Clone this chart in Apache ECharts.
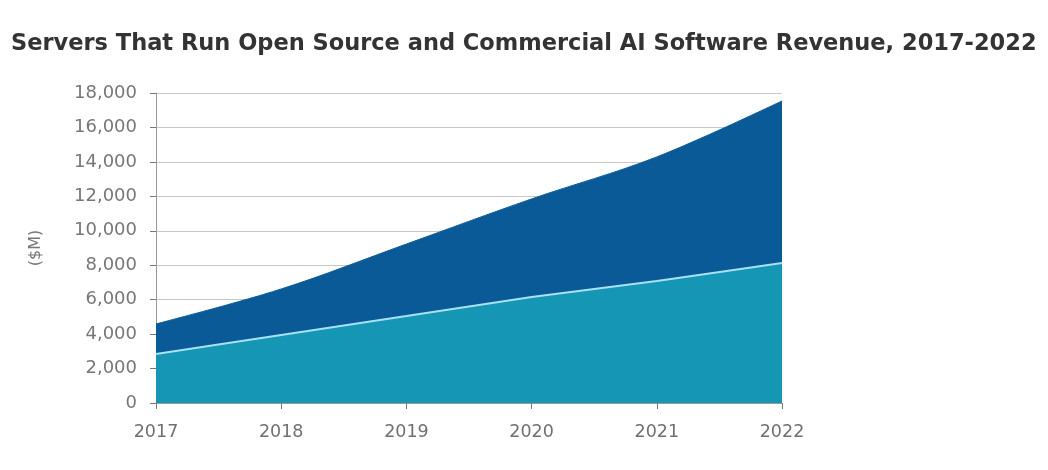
<!DOCTYPE html>
<html>
<head>
<meta charset="utf-8">
<script src="https://cdn.jsdelivr.net/npm/echarts@6/dist/echarts.min.js"></script>
<style>html,body{margin:0;padding:0;background:#fff;}#c{width:1048px;height:470px;}</style>
</head>
<body>
<div id="c"></div>
<script>
const titleText = 'Servers That Run Open Source and Commercial AI Software Revenue, 2017-2022';
const categories = ['2017', '2018', '2019', '2020', '2021', '2022'];
const openSource = [2850, 3950, 5050, 6150, 7080, 8130];
const commercial = [1740, 2670, 4180, 5700, 7210, 9410];
const yTicks = [0, 2000, 4000, 6000, 8000, 10000, 12000, 14000, 16000, 18000];
const yName = '($M)';

const chart = echarts.init(document.getElementById('c'));
chart.setOption({
  animation: false,
  title: {
    text: titleText, left: 6, top: 28,
    textStyle: { fontFamily: 'DejaVu Sans', fontSize: 22.5, fontWeight: 'bold', color: '#333' }
  },
  grid: { left: 156, right: 266, top: 93, bottom: 67 },
  xAxis: {
    type: 'category', data: categories, boundaryGap: false,
    axisLine: { lineStyle: { color: '#999' } },
    axisTick: { show: true, length: 6, lineStyle: { color: '#777' } },
    axisLabel: { color: '#707070', fontSize: 17.5, fontFamily: 'DejaVu Sans', margin: 20 },
    splitLine: { show: false }
  },
  yAxis: {
    type: 'value', min: yTicks[0], max: yTicks[yTicks.length - 1], interval: 2000,
    name: yName, nameLocation: 'middle', nameGap: 112, nameRotate: 90,
    nameTextStyle: { color: '#777', fontSize: 16, fontFamily: 'DejaVu Sans' },
    axisLine: { show: true, lineStyle: { color: '#999' } },
    axisTick: { show: true, length: 6, lineStyle: { color: '#777' } },
    axisLabel: {
      color: '#777', fontSize: 18, fontFamily: 'DejaVu Sans', margin: 19,
      formatter: v => v.toLocaleString('en-US')
    },
    splitLine: { lineStyle: { color: '#c8c8c8' } }
  },
  series: [
    {
      name: 'Open Source', type: 'line', stack: 'total', data: openSource,
      symbol: 'none', smooth: 0.15,
      lineStyle: { color: '#a8e0f5', width: 2 },
      areaStyle: { color: '#1496b4', opacity: 1 }, z: 3
    },
    {
      name: 'Commercial', type: 'line', stack: 'total', data: commercial,
      symbol: 'none', smooth: 0.35,
      lineStyle: { color: '#0a5a98', width: 1 },
      areaStyle: { color: '#0a5a98', opacity: 1 }, z: 2
    }
  ]
});
</script>
</body>
</html>
